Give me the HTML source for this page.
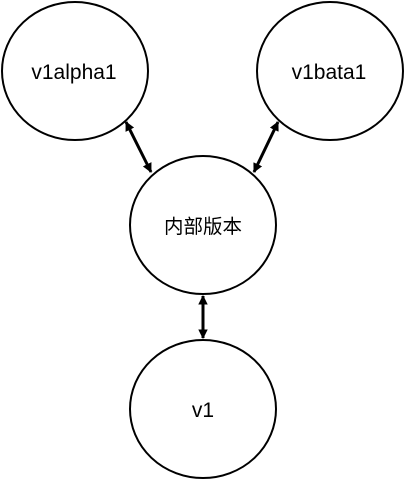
<!DOCTYPE html>
<html><head><style>body{margin:0;background:#fff;}svg{display:block}</style></head>
<body>
<svg width="404" height="480" viewBox="0 0 404 480" xmlns="http://www.w3.org/2000/svg">
<defs>
<marker id="a" viewBox="0 0 10 10" refX="9" refY="5" markerWidth="3.2" markerHeight="3.2" orient="auto-start-reverse"><path d="M0,0 L10,5 L0,10 z" fill="#000"/></marker>
</defs>
<g fill="#fff" stroke="#000" stroke-width="2">
<ellipse cx="75" cy="71" rx="73" ry="69"/>
<ellipse cx="330" cy="71" rx="73" ry="69"/>
<ellipse cx="203" cy="225" rx="73" ry="69"/>
<ellipse cx="203" cy="409" rx="73" ry="69"/>
</g>
<g stroke="#000" stroke-width="3" marker-start="url(#a)" marker-end="url(#a)">
<line x1="126" y1="122" x2="151" y2="172"/>
<line x1="278" y1="122" x2="254" y2="172"/>
<line x1="203" y1="296" x2="203" y2="338"/>
</g>
<g font-family="Liberation Sans, Noto Sans CJK SC, sans-serif" font-size="21" text-anchor="middle" fill="#000">
<text x="74" y="79">v1alpha1</text>
<text x="329" y="79">v1bata1</text>
<text x="203" y="417">v1</text>
</g>
<text x="203" y="233" font-family="Noto Sans CJK SC, sans-serif" font-size="19.5" text-anchor="middle" fill="#000">内部版本</text>
</svg>
</body></html>
